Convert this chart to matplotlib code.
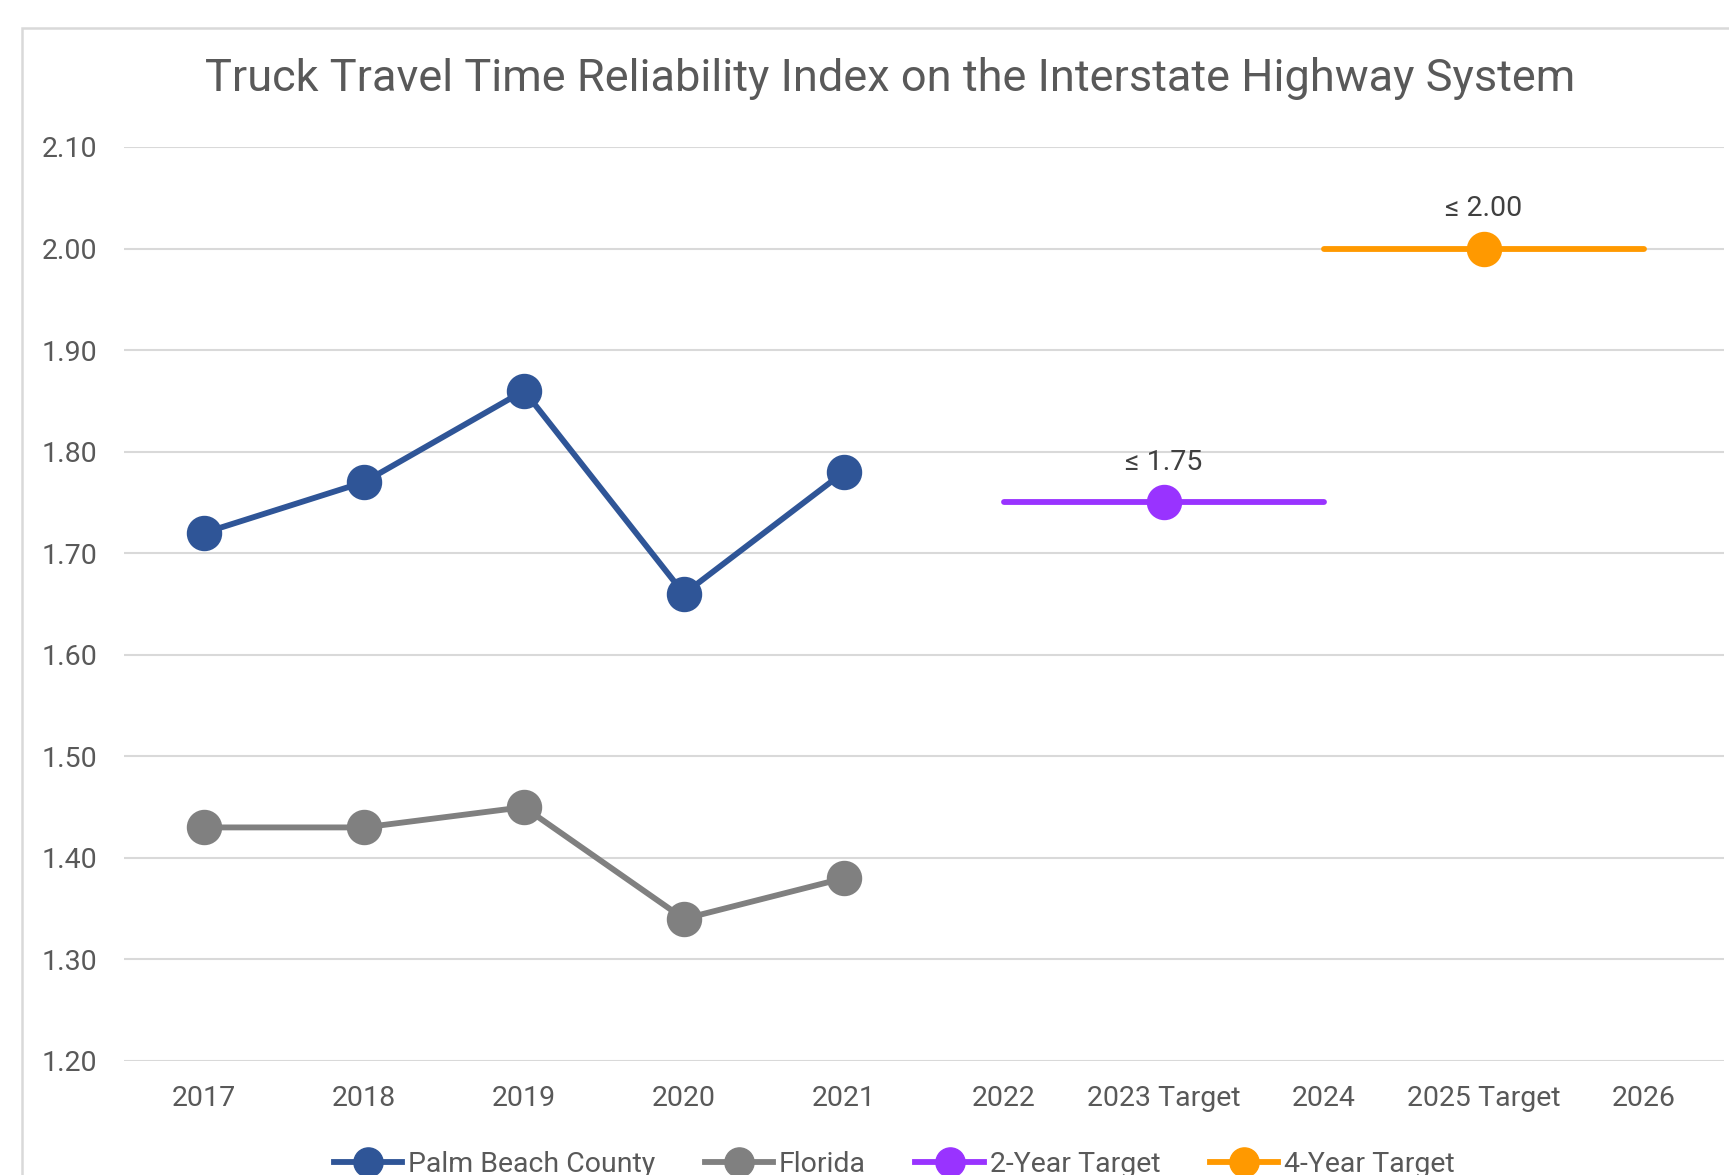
import matplotlib
matplotlib.use("Agg")
import matplotlib.pyplot as plt
from matplotlib.patches import Rectangle
from matplotlib.lines import Line2D

plt.rcParams['font.family'] = ['Roboto', 'DejaVu Sans']

categories = ["2017", "2018", "2019", "2020", "2021", "2022",
              "2023 Target", "2024", "2025 Target", "2026"]
palm_beach = [1.72, 1.77, 1.86, 1.66, 1.78]
florida = [1.43, 1.43, 1.45, 1.34, 1.38]
two_year_target = 1.75
two_year_span = ["2022", "2023 Target", "2024"]
two_year_point = "2023 Target"
four_year_target = 2.00
four_year_span = ["2024", "2025 Target", "2026"]
four_year_point = "2025 Target"
yticks = [1.20, 1.30, 1.40, 1.50, 1.60, 1.70, 1.80, 1.90, 2.00, 2.10]
title = "Truck Travel Time Reliability Index on the Interstate Highway System"

c_blue = "#2F5597"
c_gray = "#808080"
c_purple = "#9933FF"
c_orange = "#FF9900"
txt = "#595959"

W, H = 1729, 1175
fig = plt.figure(figsize=(W / 100, H / 100), dpi=100)
fig.patch.set_facecolor("white")

# outer chart border (cropped on right and bottom)
fig.add_artist(Rectangle((22 / W, -0.2), 1.5, 1 - 28 / H + 0.2,
                         transform=fig.transFigure, fill=False,
                         edgecolor="#d9d9d9", lw=1.8, zorder=0))

ax = fig.add_axes([124 / W, 1 - 1061 / H, 1600 / W, (1061 - 147) / H])
idx = {c: i for i, c in enumerate(categories)}

lw = 4.2
ms = 24.5
ax.plot(range(len(palm_beach)), palm_beach, color=c_blue, lw=lw,
        marker="o", ms=ms, zorder=4, label="Palm Beach County")
ax.plot(range(len(florida)), florida, color=c_gray, lw=lw,
        marker="o", ms=ms, zorder=4, label="Florida")

xs2 = [idx[c] for c in two_year_span]
ax.plot(xs2, [two_year_target] * len(xs2), color=c_purple, lw=lw,
        solid_capstyle="round", zorder=3)
ax.plot([idx[two_year_point]], [two_year_target], color=c_purple,
        marker="o", ms=ms, lw=0, zorder=4)
xs4 = [idx[c] for c in four_year_span]
ax.plot(xs4, [four_year_target] * len(xs4), color=c_orange, lw=lw,
        solid_capstyle="round", zorder=3)
ax.plot([idx[four_year_point]], [four_year_target], color=c_orange,
        marker="o", ms=ms, lw=0, zorder=4)

ax.annotate(f"\u2264 {two_year_target:.2f}", (idx[two_year_point], two_year_target),
            xytext=(0, 40), textcoords="offset pixels", ha="center", va="center",
            fontsize=20.5, color="#404040")
ax.annotate(f"\u2264 {four_year_target:.2f}", (idx[four_year_point], four_year_target),
            xytext=(0, 40), textcoords="offset pixels", ha="center", va="center",
            fontsize=20.5, color="#404040")

ax.set_xlim(-0.5, len(categories) - 0.5)
ax.set_ylim(1.20, 2.10)
ax.set_yticks(yticks)
ax.set_yticklabels([f"{v:.2f}" for v in yticks])
ax.set_xticks(range(len(categories)))
ax.set_xticklabels(categories)
ax.grid(axis="y", color="#d9d9d9", lw=1.5, zorder=0)
ax.set_axisbelow(True)
for s in ax.spines.values():
    s.set_visible(False)
ax.tick_params(axis="both", length=0, labelsize=20.5, colors=txt)
ax.tick_params(axis="x", pad=17)
ax.tick_params(axis="y", pad=19)

fig.text(890 / W, 1 - 79 / H, title, ha="center", va="center",
         fontsize=32.5, color=txt)

handles = [
    Line2D([], [], color=c_blue, lw=lw, marker="o", ms=21),
    Line2D([], [], color=c_gray, lw=lw, marker="o", ms=21),
    Line2D([], [], color=c_purple, lw=lw, marker="o", ms=21),
    Line2D([], [], color=c_orange, lw=lw, marker="o", ms=21),
]
labels = ["Palm Beach County", "Florida", "2-Year Target", "4-Year Target"]
leg = fig.legend(handles, labels, loc="center", bbox_to_anchor=(894 / W, 1 - 1164 / H),
                 ncol=4, frameon=False, fontsize=20.5, handlelength=2.4,
                 handletextpad=0.2, columnspacing=1.75, labelcolor=txt)

fig.savefig("out.png", dpi=100)
